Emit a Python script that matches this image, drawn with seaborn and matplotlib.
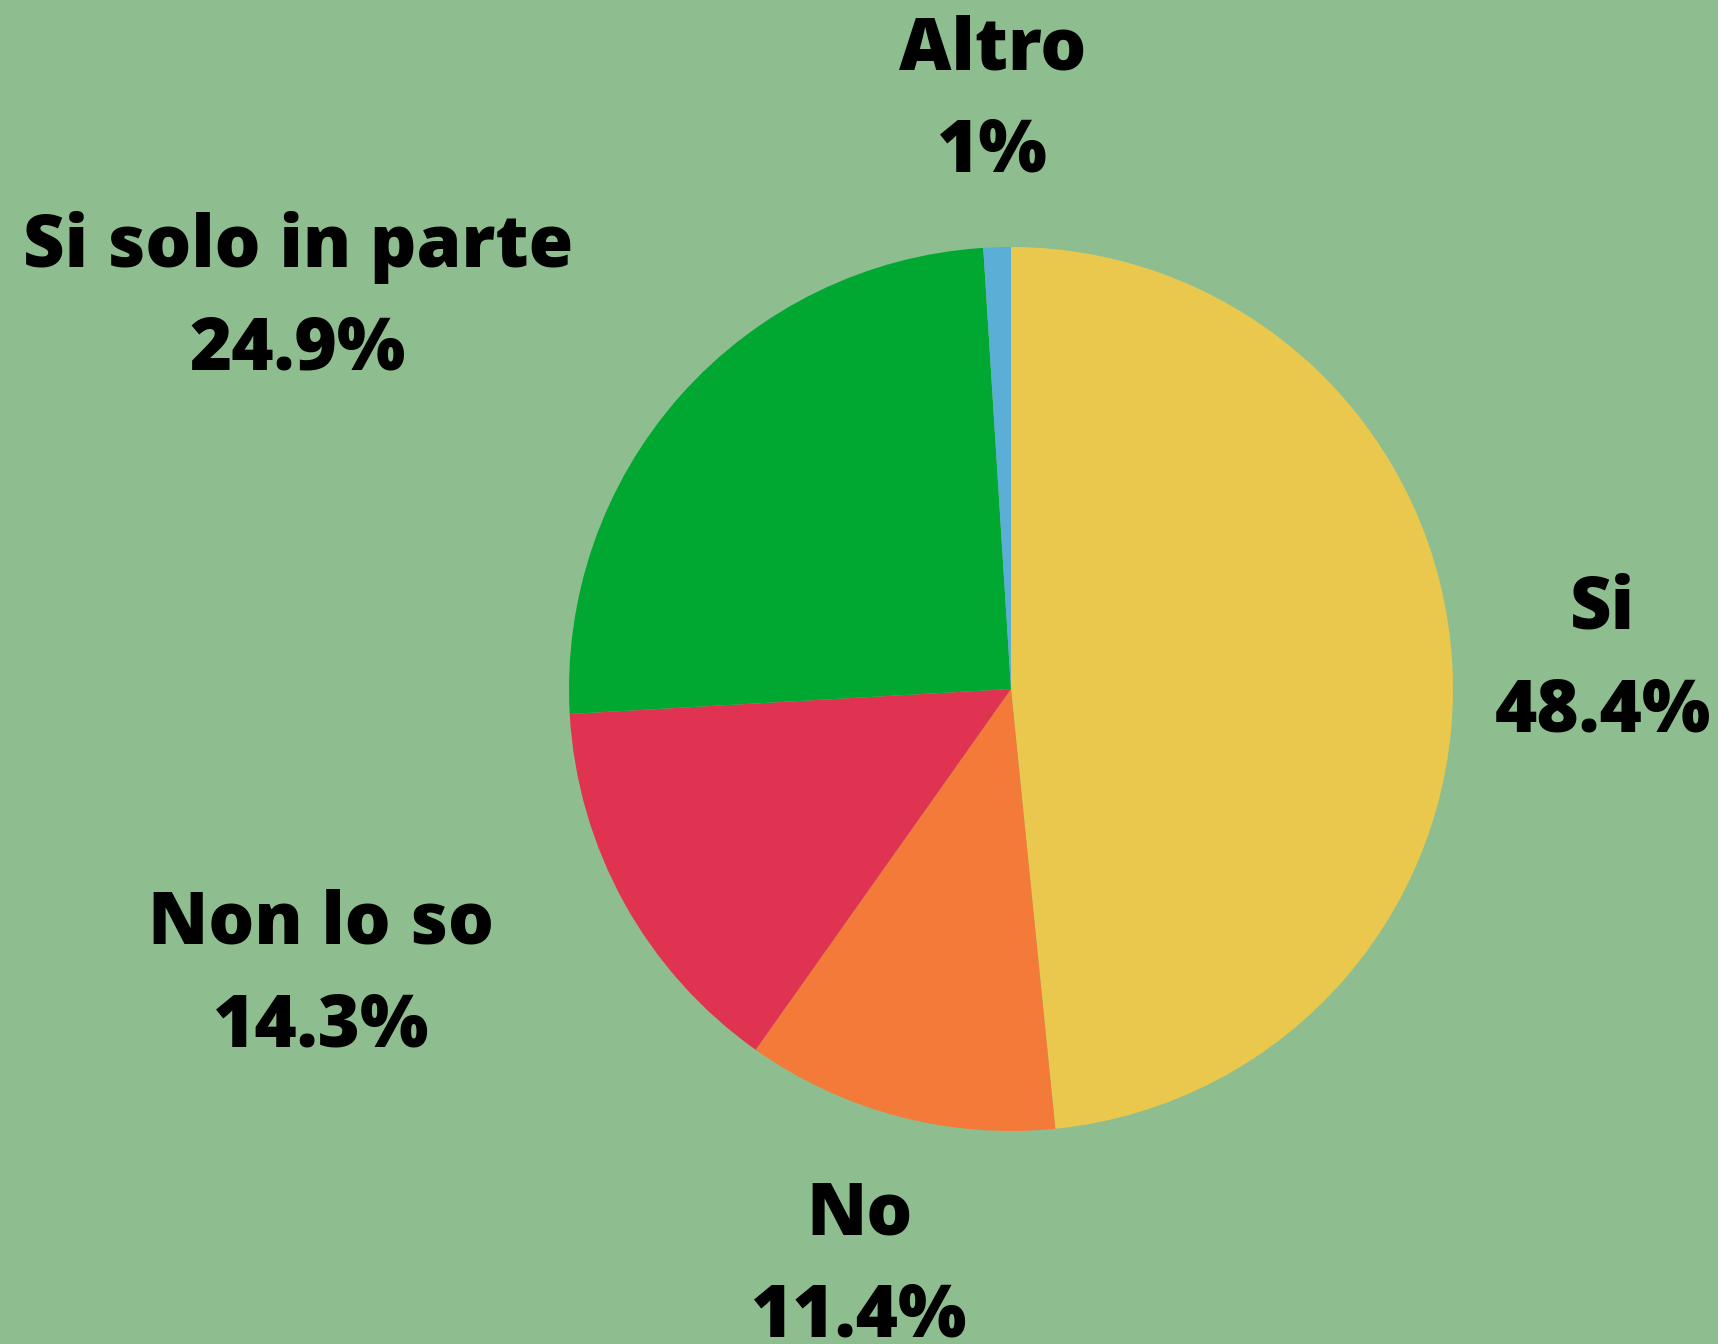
import numpy as np
import matplotlib.pyplot as plt
import seaborn as sns

# survey answers
labels = ['Si', 'No', 'Non lo so', 'Si solo in parte', 'Altro']
values = [48.4, 11.4, 14.3, 24.9, 1.0]
pct_text = ['48.4%', '11.4%', '14.3%', '24.9%', '1%']
colors = ['#EAC84E', '#F37A39', '#E03352', '#00A832', '#5BAED6']

# label placement (radius multiples, angle in degrees)
label_r = [1.34, 1.35, 1.69, 1.84, 1.33]
label_ang = [2.7, -104.7, -157.4, 151.3, 91.8]

bg = '#8EBE8F'

sns.set_theme(style='white')
plt.rcParams['font.family'] = ['Open Sans', 'DejaVu Sans']

fig = plt.figure(figsize=(17.18, 13.44), dpi=100, facecolor=bg)
ax = fig.add_axes([0, 0, 1, 1])
ax.set_facecolor(bg)

pal = sns.color_palette(colors)
wedges, _ = ax.pie(values, colors=pal, startangle=90, counterclock=False,
                   wedgeprops=dict(linewidth=0))

for i, lab in enumerate(labels):
    a = np.deg2rad(label_ang[i])
    ax.text(label_r[i] * np.cos(a), label_r[i] * np.sin(a),
            f'{lab}\n{pct_text[i]}', ha='center', va='center',
            fontsize=52, fontweight=800, color='black', linespacing=1.55)

R = 442
ax.set_xlim(-1011 / R, (1718 - 1011) / R)
ax.set_ylim(-(1344 - 689) / R, 689 / R)
ax.set_aspect('equal')
ax.axis('off')

fig.savefig('out.png', dpi=100, facecolor=bg)
